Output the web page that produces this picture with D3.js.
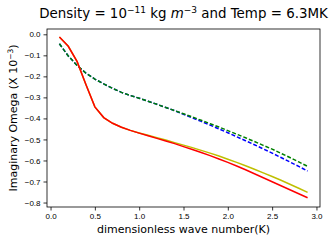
<!DOCTYPE html>
<html>
<head>
<meta charset="utf-8">
<script src="https://cdn.jsdelivr.net/npm/d3@7"></script>
<style>
  body { margin: 0; background: #fff; }
  svg { font-family: "DejaVu Sans", sans-serif; }
  .tick text { font-size: 8px; fill: #000; }
</style>
</head>
<body>
<div class="chart"></div>
<script>
var svgWidth = 329;
var svgHeight = 240;

var margin = { top: 29, right: 9, bottom: 33, left: 47 };
var width = svgWidth - margin.left - margin.right;
var height = svgHeight - margin.top - margin.bottom;

// wave numbers K
var kValues = [0.1, 0.2, 0.3, 0.4, 0.5, 0.6, 0.7, 0.8, 0.9, 1.0,
  1.1, 1.2, 1.3, 1.4, 1.5, 1.6, 1.7, 1.8, 1.9, 2.0,
  2.1, 2.2, 2.3, 2.4, 2.5, 2.6, 2.7, 2.8, 2.9];

var redValues = [-0.013, -0.057, -0.13, -0.24, -0.345, -0.396, -0.423, -0.442, -0.457, -0.470,
  -0.482, -0.495, -0.507, -0.520, -0.534, -0.548, -0.562, -0.577, -0.593, -0.609,
  -0.626, -0.644, -0.663, -0.682, -0.701, -0.720, -0.739, -0.758, -0.777];

var yellowValues = [-0.013, -0.057, -0.13, -0.24, -0.345, -0.396, -0.423, -0.442, -0.457, -0.469,
  -0.480, -0.492, -0.503, -0.515, -0.527, -0.539, -0.552, -0.565, -0.579, -0.594,
  -0.609, -0.625, -0.642, -0.659, -0.676, -0.694, -0.713, -0.732, -0.752];

var greenValues = [-0.045, -0.103, -0.148, -0.185, -0.213, -0.236, -0.257, -0.276, -0.291, -0.304,
  -0.318, -0.333, -0.348, -0.363, -0.378, -0.393, -0.409, -0.425, -0.441, -0.458,
  -0.475, -0.492, -0.510, -0.528, -0.546, -0.566, -0.586, -0.607, -0.628];

var blueValues = [-0.045, -0.103, -0.148, -0.185, -0.213, -0.236, -0.257, -0.276, -0.291, -0.304,
  -0.318, -0.333, -0.348, -0.363, -0.380, -0.397, -0.414, -0.432, -0.450, -0.468,
  -0.487, -0.506, -0.525, -0.545, -0.565, -0.586, -0.607, -0.628, -0.650];

var xTicks = [0.0, 0.5, 1.0, 1.5, 2.0, 2.5, 3.0];
var yTicks = [0.0, -0.1, -0.2, -0.3, -0.4, -0.5, -0.6, -0.7, -0.8];

var series = [
  { values: blueValues, color: "#0000ff", dash: "4,2" },
  { values: greenValues, color: "#008000", dash: "4,2" },
  { values: yellowValues, color: "#bfbf00", dash: null },
  { values: redValues, color: "#ff0000", dash: null }
];

var svg = d3.select(".chart")
  .append("svg")
  .attr("width", svgWidth)
  .attr("height", svgHeight);

var chartGroup = svg.append("g")
  .attr("transform", `translate(${margin.left}, ${margin.top})`);

// scales, with matplotlib-like 5% margins
var xScale = d3.scaleLinear().domain([-0.04, 3.04]).range([0, width]);
var yScale = d3.scaleLinear().domain([-0.8212, 0.0252]).range([height, 0]);

var fmt = d3.format(".1f");
var bottomAxis = d3.axisBottom(xScale).tickValues(xTicks).tickSize(3.5).tickPadding(3)
  .tickFormat(d => fmt(d));
var leftAxis = d3.axisLeft(yScale).tickValues(yTicks).tickSize(3.5).tickPadding(3)
  .tickFormat(d => fmt(d).replace("-", "\u2212"));

var xg = chartGroup.append("g")
  .attr("transform", `translate(0, ${height})`)
  .call(bottomAxis);
var yg = chartGroup.append("g").call(leftAxis);
[xg, yg].forEach(function(g) {
  g.select(".domain").remove();
  g.selectAll(".tick line").attr("stroke", "#000").attr("stroke-width", 0.8);
});

// lines
var line = d3.line()
  .x((d, i) => xScale(kValues[i]))
  .y(d => yScale(d));

series.forEach(function(s) {
  chartGroup.append("path")
    .datum(s.values)
    .attr("fill", "none")
    .attr("stroke", s.color)
    .attr("stroke-width", 1.5)
    .attr("stroke-dasharray", s.dash)
    .attr("d", line);
});

// frame
chartGroup.append("rect")
  .attr("width", width)
  .attr("height", height)
  .attr("fill", "none")
  .attr("stroke", "#000")
  .attr("stroke-width", 0.8);

// title
var title = svg.append("text")
  .attr("x", margin.left + width / 2)
  .attr("y", 18)
  .attr("text-anchor", "middle")
  .attr("font-size", 13.4);
title.append("tspan").text("Density = 10");
title.append("tspan").attr("font-size", 9).attr("dy", -5.5).text("\u221211");
title.append("tspan").attr("dy", 5.5).text(" kg ");
title.append("tspan").attr("font-style", "italic").text("m");
title.append("tspan").attr("font-size", 9).attr("dy", -5.5).text("\u22123");
title.append("tspan").attr("dy", 5.5).text(" and Temp = 6.3MK");

// axis labels
var yLabel = chartGroup.append("text")
  .attr("transform", "rotate(-90)")
  .attr("x", -height / 2)
  .attr("y", -30)
  .attr("text-anchor", "middle")
  .attr("font-size", 11);
yLabel.append("tspan").text("Imaginary Omega (X 10");
yLabel.append("tspan").attr("font-size", 7.5).attr("dy", -4.5).text("\u22123");
yLabel.append("tspan").attr("dy", 4.5).text(")");

chartGroup.append("text")
  .attr("x", width / 2)
  .attr("y", height + 26)
  .attr("text-anchor", "middle")
  .attr("font-size", 11)
  .text("dimensionless wave number(K)");
</script>
</body>
</html>
